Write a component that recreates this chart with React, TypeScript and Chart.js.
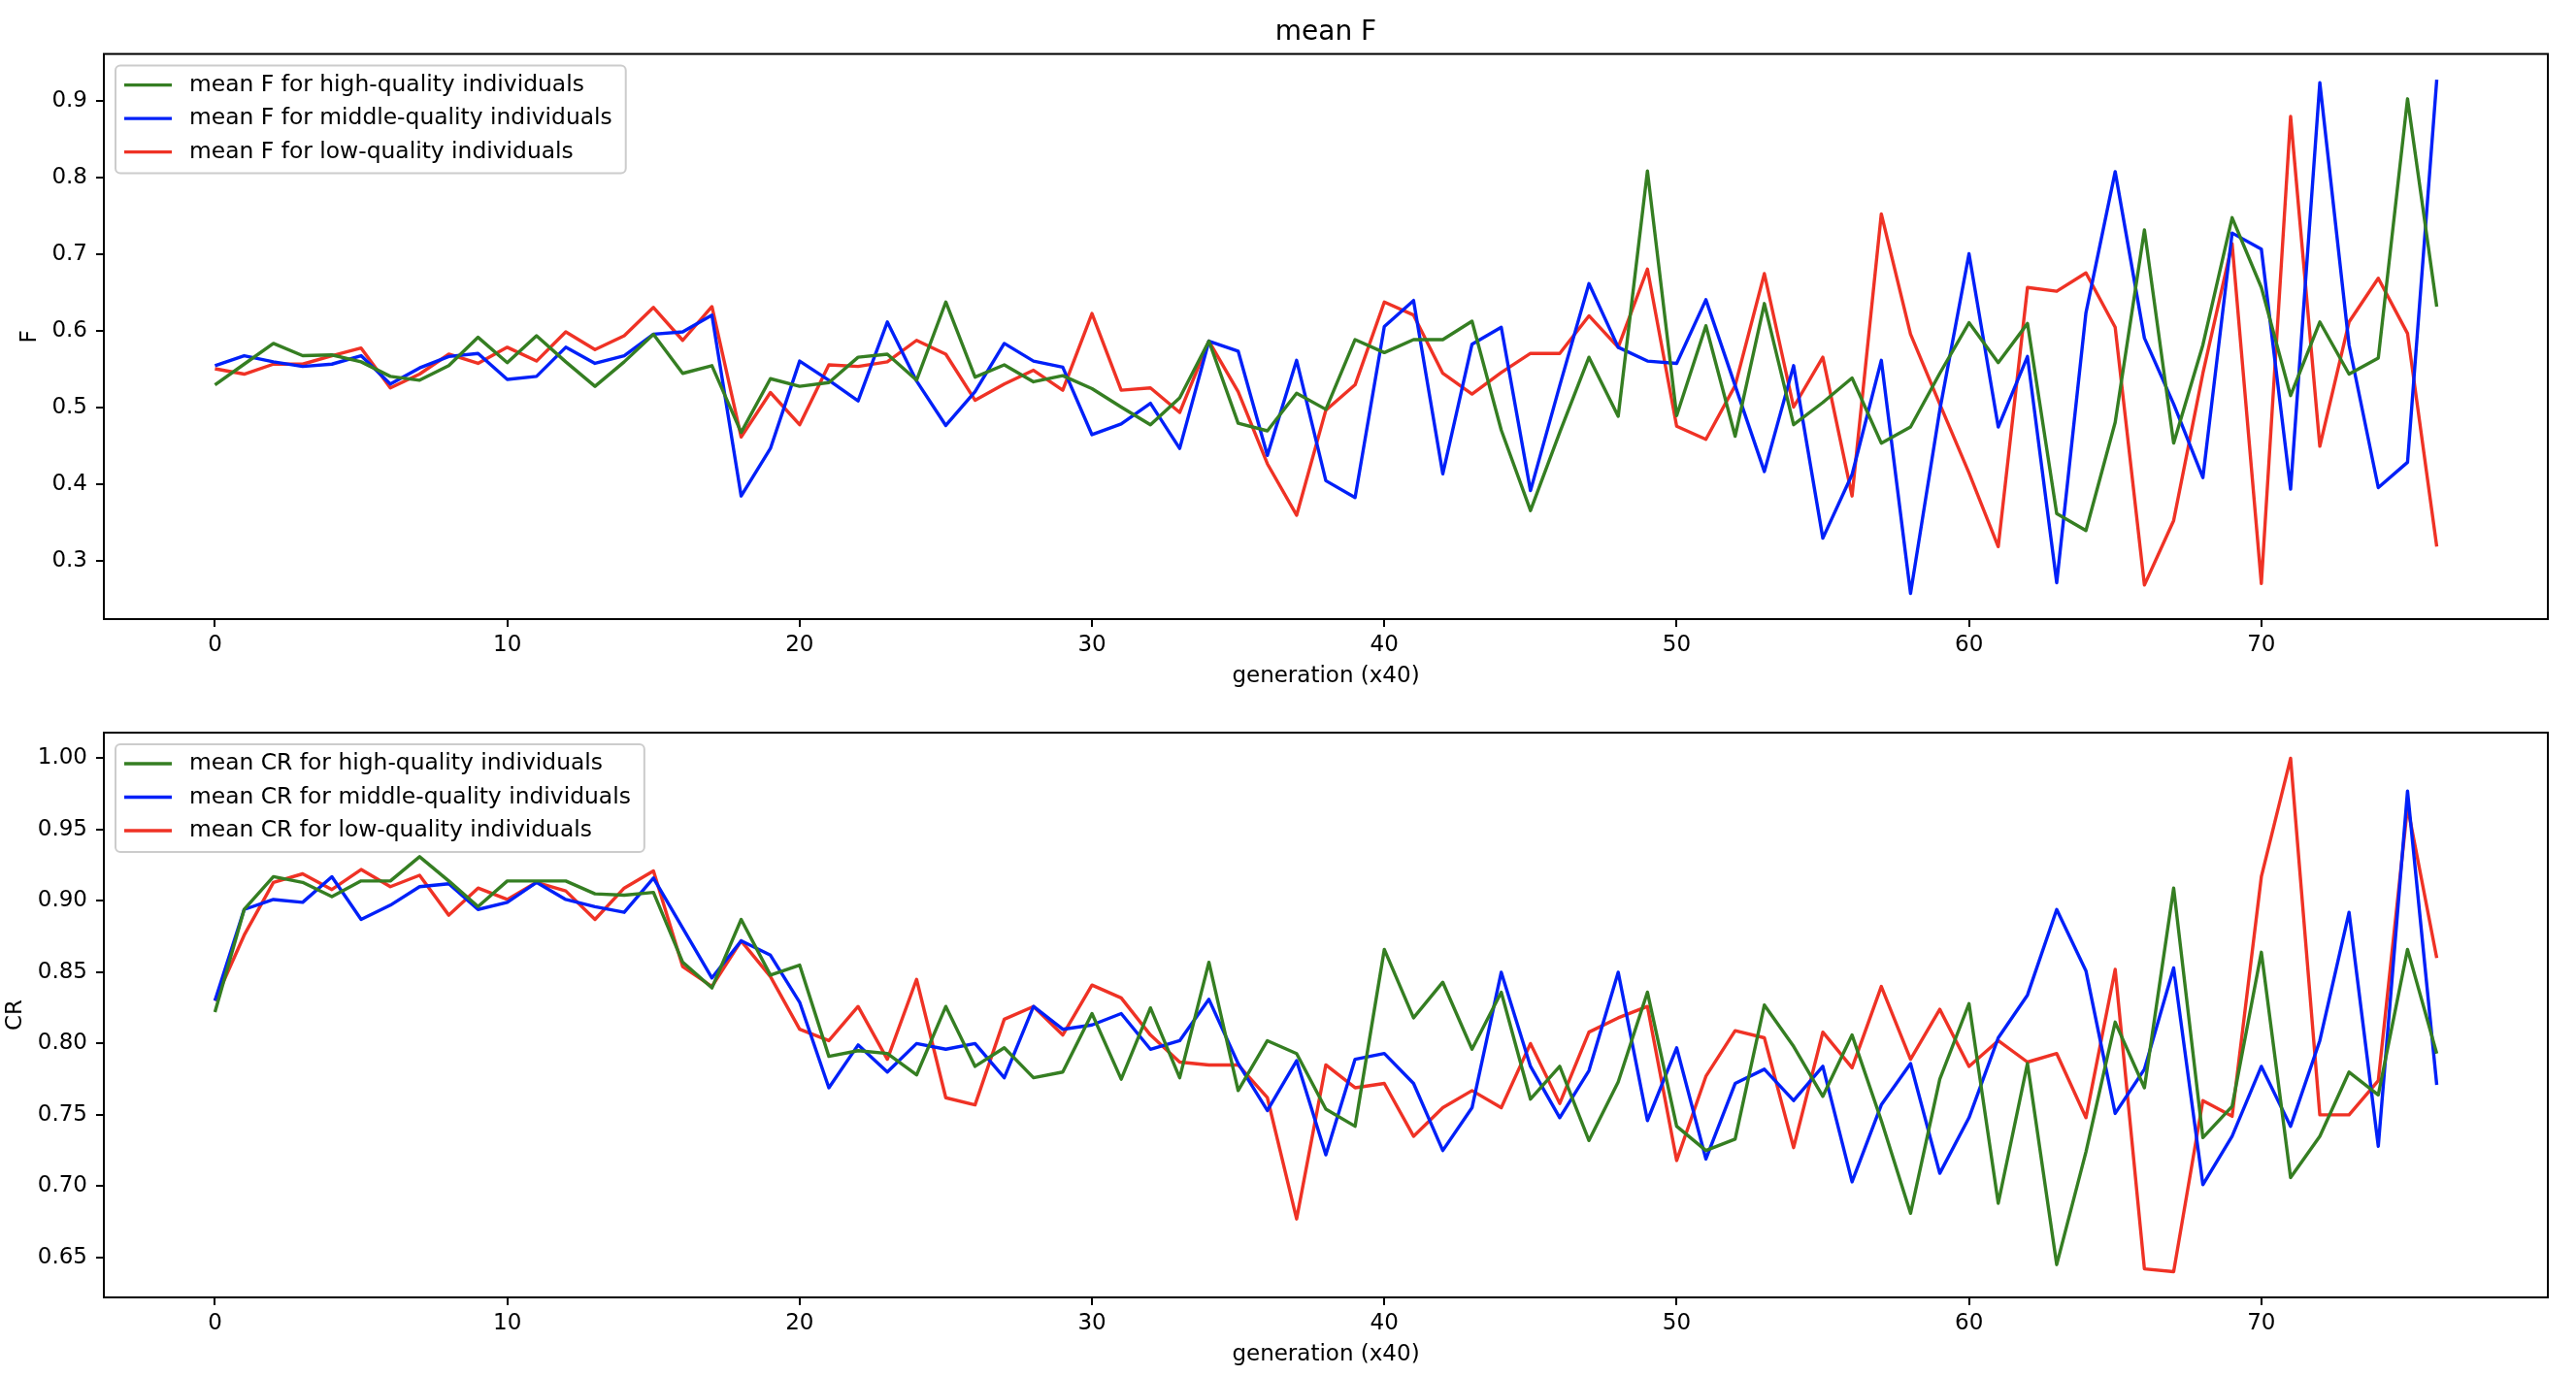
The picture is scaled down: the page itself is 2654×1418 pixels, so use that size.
import React, { useEffect, useRef } from "react";
import { Chart, registerables } from "chart.js";

Chart.register(...registerables);
Chart.defaults.font.family = '"DejaVu Sans", sans-serif';
Chart.defaults.color = "#000";

const generations = Array.from({ length: 77 }, (_, i) => i);
const xTicks = [0, 10, 20, 30, 40, 50, 60, 70];
const fTicks = [0.3, 0.4, 0.5, 0.6, 0.7, 0.8, 0.9];
const crTicks = [0.65, 0.7, 0.75, 0.8, 0.85, 0.9, 0.95, 1.0];

const fLabels = [
  "mean F for high-quality individuals",
  "mean F for middle-quality individuals",
  "mean F for low-quality individuals",
];
const crLabels = [
  "mean CR for high-quality individuals",
  "mean CR for middle-quality individuals",
  "mean CR for low-quality individuals",
];

const highF = [
  0.530, 0.557, 0.584, 0.568, 0.569, 0.560, 0.541, 0.536, 0.555, 0.592,
  0.559, 0.594, 0.560, 0.528, 0.560, 0.596, 0.545, 0.555, 0.468, 0.538,
  0.528, 0.533, 0.566, 0.570, 0.536, 0.638, 0.540, 0.556, 0.534, 0.542,
  0.525, 0.501, 0.478, 0.513, 0.587, 0.480, 0.470, 0.519, 0.498, 0.589,
  0.572, 0.589, 0.589, 0.613, 0.471, 0.366, 0.468, 0.566, 0.489, 0.809,
  0.490, 0.607, 0.463, 0.636, 0.478, 0.507, 0.539, 0.454, 0.475, 0.545,
  0.611, 0.559, 0.610, 0.362, 0.340, 0.481, 0.732, 0.454, 0.582, 0.748,
  0.657, 0.516, 0.612, 0.544, 0.565, 0.903, 0.632,
];
const midF = [
  0.555, 0.568, 0.560, 0.554, 0.557, 0.568, 0.531, 0.552, 0.567, 0.571,
  0.537, 0.541, 0.579, 0.558, 0.568, 0.596, 0.599, 0.621, 0.385, 0.447,
  0.561, 0.536, 0.509, 0.612, 0.535, 0.477, 0.521, 0.584, 0.561, 0.553,
  0.465, 0.479, 0.506, 0.447, 0.587, 0.574, 0.438, 0.562, 0.405, 0.383,
  0.606, 0.640, 0.414, 0.583, 0.605, 0.392, 0.529, 0.662, 0.579, 0.561,
  0.558, 0.641, 0.529, 0.417, 0.555, 0.330, 0.413, 0.562, 0.258, 0.497,
  0.701, 0.475, 0.567, 0.272, 0.624, 0.808, 0.591, 0.505, 0.409, 0.728,
  0.707, 0.394, 0.924, 0.582, 0.396, 0.429, 0.928,
];
const lowF = [
  0.551, 0.544, 0.557, 0.557, 0.568, 0.578, 0.526, 0.544, 0.570, 0.558,
  0.579, 0.561, 0.599, 0.576, 0.594, 0.631, 0.588, 0.632, 0.462, 0.520,
  0.478, 0.556, 0.554, 0.560, 0.588, 0.570, 0.510, 0.531, 0.549, 0.523,
  0.623, 0.523, 0.526, 0.494, 0.587, 0.521, 0.427, 0.360, 0.497, 0.530,
  0.638, 0.621, 0.545, 0.518, 0.546, 0.571, 0.571, 0.620, 0.579, 0.681,
  0.476, 0.459, 0.529, 0.675, 0.501, 0.566, 0.385, 0.753, 0.596, 0.505,
  0.415, 0.319, 0.657, 0.652, 0.676, 0.605, 0.269, 0.353, 0.545, 0.714,
  0.271, 0.880, 0.450, 0.612, 0.669, 0.597, 0.319,
];

const highCR = [
  0.822, 0.894, 0.917, 0.913, 0.903, 0.914, 0.914, 0.931, 0.914, 0.896,
  0.914, 0.914, 0.914, 0.905, 0.904, 0.906, 0.857, 0.839, 0.887, 0.848,
  0.855, 0.791, 0.795, 0.793, 0.778, 0.826, 0.784, 0.797, 0.776, 0.780,
  0.821, 0.775, 0.825, 0.776, 0.857, 0.767, 0.802, 0.793, 0.754, 0.742,
  0.866, 0.818, 0.843, 0.796, 0.836, 0.761, 0.784, 0.732, 0.773, 0.836,
  0.742, 0.725, 0.733, 0.827, 0.798, 0.763, 0.806, 0.746, 0.681, 0.775,
  0.828, 0.688, 0.786, 0.645, 0.724, 0.815, 0.769, 0.909, 0.734, 0.756,
  0.864, 0.706, 0.735, 0.780, 0.764, 0.866, 0.793,
];
const midCR = [
  0.830, 0.894, 0.901, 0.899, 0.917, 0.887, 0.897, 0.910, 0.912, 0.894,
  0.899, 0.913, 0.901, 0.896, 0.892, 0.916, 0.881, 0.846, 0.872, 0.862,
  0.829, 0.769, 0.799, 0.780, 0.800, 0.796, 0.800, 0.776, 0.826, 0.810,
  0.813, 0.821, 0.796, 0.802, 0.831, 0.786, 0.753, 0.788, 0.722, 0.789,
  0.793, 0.772, 0.725, 0.755, 0.850, 0.784, 0.748, 0.781, 0.850, 0.746,
  0.797, 0.719, 0.772, 0.782, 0.760, 0.784, 0.703, 0.757, 0.786, 0.709,
  0.748, 0.804, 0.834, 0.894, 0.851, 0.751, 0.782, 0.853, 0.701, 0.735,
  0.784, 0.742, 0.802, 0.892, 0.728, 0.977, 0.771,
];
const lowCR = [
  0.830, 0.876, 0.913, 0.919, 0.908, 0.922, 0.910, 0.918, 0.890, 0.909,
  0.901, 0.913, 0.907, 0.887, 0.909, 0.921, 0.854, 0.840, 0.872, 0.847,
  0.810, 0.802, 0.826, 0.789, 0.845, 0.762, 0.757, 0.817, 0.826, 0.806,
  0.841, 0.832, 0.806, 0.787, 0.785, 0.785, 0.762, 0.677, 0.785, 0.769,
  0.772, 0.735, 0.755, 0.767, 0.755, 0.800, 0.758, 0.808, 0.818, 0.826,
  0.718, 0.777, 0.809, 0.804, 0.727, 0.808, 0.783, 0.840, 0.789, 0.824,
  0.784, 0.802, 0.787, 0.793, 0.748, 0.852, 0.642, 0.640, 0.760, 0.749,
  0.917, 1.000, 0.750, 0.750, 0.774, 0.966, 0.860,
];

const lineColors = ["#357e22", "#0020f8", "#ef3225"];

// axes box, drawn over the lines like matplotlib spines
const framePlugin = {
  id: "frame",
  afterDatasetsDraw(chart: any) {
    const { ctx, chartArea: a } = chart;
    ctx.save();
    ctx.strokeStyle = "#000";
    ctx.lineWidth = 2;
    ctx.strokeRect(a.left, a.top, a.right - a.left, a.bottom - a.top);
    ctx.restore();
  },
};

// legend box sitting inside the plot area (upper left)
const insetLegendPlugin = {
  id: "insetLegend",
  afterDatasetsDraw(chart: any) {
    const { ctx, chartArea } = chart;
    const items = chart.data.datasets;
    ctx.save();
    ctx.font = '23.4px "DejaVu Sans"';
    const textW = Math.max(...items.map((d: any) => ctx.measureText(d.label).width));
    const x = chartArea.left + 12;
    const y = chartArea.top + 12;
    const w = 76 + textW + 14;
    const h = 111;
    ctx.beginPath();
    ctx.roundRect(x, y, w, h, 5);
    ctx.fillStyle = "rgba(255,255,255,0.8)";
    ctx.fill();
    ctx.strokeStyle = "#cccccc";
    ctx.lineWidth = 2;
    ctx.stroke();
    items.forEach((d: any, k: number) => {
      const ry = y + 20 + k * 34.5;
      ctx.beginPath();
      ctx.moveTo(x + 9, ry);
      ctx.lineTo(x + 58, ry);
      ctx.strokeStyle = d.borderColor;
      ctx.lineWidth = 3.4;
      ctx.stroke();
      ctx.fillStyle = "#000";
      ctx.textBaseline = "middle";
      ctx.textAlign = "left";
      ctx.fillText(d.label, x + 76, ry);
    });
    ctx.restore();
  },
};

type PanelProps = {
  title?: string;
  yTitle: string;
  yTitlePad: number;
  series: number[][];
  labels: string[];
  yTicks: number[];
  decimals: number;
  top: number;
  height: number;
  padTop: number;
  xAxisHeight: number;
  xTitlePad: number;
};

const LinePanel: React.FC<PanelProps> = (p) => {
  const chartRef = useRef<HTMLCanvasElement | null>(null);

  useEffect(() => {
    if (!chartRef.current) return;
    const all = p.series.flat();
    const lo = Math.min(...all);
    const hi = Math.max(...all);
    const margin = (hi - lo) * 0.05;

    const chart = new Chart(chartRef.current, {
      type: "line",
      data: {
        datasets: p.series.map((s, k) => ({
          label: p.labels[k],
          data: s.map((v, i) => ({ x: generations[i], y: v })),
          borderColor: lineColors[k],
          backgroundColor: lineColors[k],
          borderWidth: 3.4,
          pointRadius: 0,
          tension: 0,
          fill: false,
          borderJoinStyle: "round",
        })),
      },
      options: {
        animation: false,
        responsive: true,
        maintainAspectRatio: false,
        layout: { padding: { left: 0, right: 29, top: p.padTop, bottom: 0 } },
        plugins: {
          legend: { display: false },
          tooltip: { enabled: false },
          title: {
            display: !!p.title,
            text: p.title ?? "",
            color: "#000",
            font: { size: 28, weight: "normal" },
            padding: { top: 17, bottom: 5 },
            fullSize: false,
          },
        },
        scales: {
          x: {
            type: "linear",
            min: -3.8,
            max: 79.8,
            afterBuildTicks: (s: any) => {
              s.ticks = xTicks.map((v) => ({ value: v }));
            },
            afterFit: (s: any) => {
              s.height = p.xAxisHeight;
            },
            ticks: {
              color: "#000",
              font: { size: 23 },
              padding: 5,
              maxRotation: 0,
              autoSkip: false,
              callback: (v: any) => String(v),
            },
            grid: {
              drawOnChartArea: false,
              drawTicks: true,
              tickLength: 8,
              color: "#000",
              lineWidth: 2,
            },
            border: { display: false },
            title: {
              display: true,
              text: "generation (x40)",
              color: "#000",
              font: { size: 23 },
              padding: { top: 0, bottom: p.xTitlePad },
            },
          },
          y: {
            type: "linear",
            min: lo - margin,
            max: hi + margin,
            afterBuildTicks: (s: any) => {
              s.ticks = p.yTicks.map((v) => ({ value: v }));
            },
            afterFit: (s: any) => {
              s.width = 107;
            },
            ticks: {
              color: "#000",
              font: { size: 23 },
              padding: 9,
              autoSkip: false,
              callback: (v: any) => Number(v).toFixed(p.decimals),
            },
            grid: {
              drawOnChartArea: false,
              drawTicks: true,
              tickLength: 8,
              color: "#000",
              lineWidth: 2,
            },
            border: { display: false },
            title: {
              display: true,
              text: p.yTitle,
              color: "#000",
              font: { size: 23 },
              padding: { top: p.yTitlePad, bottom: 0 },
            },
          },
        },
      },
      plugins: [framePlugin, insetLegendPlugin],
    } as any);

    return () => chart.destroy();
  }, []);

  return (
    <div style={{ position: "absolute", left: 0, top: p.top, width: 2654, height: p.height }}>
      <canvas ref={chartRef} />
    </div>
  );
};

export default function App() {
  return (
    <div
      style={{
        position: "fixed",
        left: 0,
        top: 0,
        width: 2654,
        height: 1418,
        background: "#fff",
        overflow: "hidden",
      }}
    >
      <LinePanel
        title="mean F"
        yTitle="F"
        yTitlePad={17}
        series={[highF, midF, lowF]}
        labels={fLabels}
        yTicks={fTicks}
        decimals={1}
        top={0}
        height={720}
        padTop={0}
        xAxisHeight={82}
        xTitlePad={9}
      />
      <LinePanel
        yTitle="CR"
        yTitlePad={2}
        series={[highCR, midCR, lowCR]}
        labels={crLabels}
        yTicks={crTicks}
        decimals={2}
        top={720}
        height={698}
        padTop={35}
        xAxisHeight={81}
        xTitlePad={8}
      />
    </div>
  );
}
